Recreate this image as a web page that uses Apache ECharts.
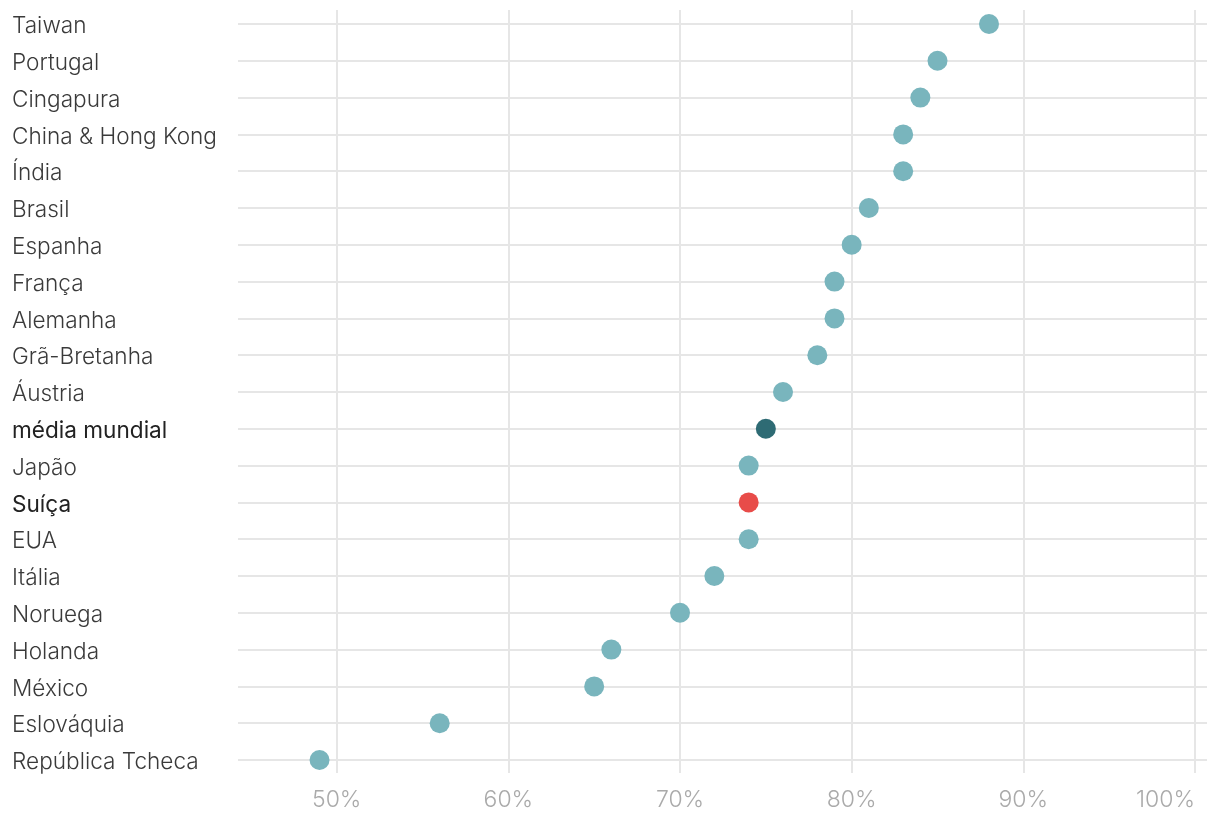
<!DOCTYPE html>
<html>
<head>
<meta charset="utf-8">
<script src="https://cdn.jsdelivr.net/npm/echarts@6/dist/echarts.min.js"></script>
<style>
html,body{margin:0;padding:0;background:#fff;}
#c{width:1220px;height:824px;}
</style>
</head>
<body>
<div id="c"></div>
<script>
const categories = ["Taiwan","Portugal","Cingapura","China & Hong Kong","Índia","Brasil","Espanha","França","Alemanha","Grã-Bretanha","Áustria","média mundial","Japão","Suíça","EUA","Itália","Noruega","Holanda","México","Eslováquia","República Tcheca"];
const values = [88,85,84,83,83,81,80,79,79,78,76,75,74,74,74,72,70,66,65,56,49];
const tickValues = [50,60,70,80,90,100];
const boldCategories = ["média mundial","Suíça"];
const specialColors = {"média mundial":"#2e6b74","Suíça":"#e84c49"};

const FONT = 'Inter';
const XMIN = 44.25, XMAX = 100.7;
const LABEL_SIZE = 22.6;

const chart = echarts.init(document.getElementById('c'), null, {renderer:'canvas'});
chart.setOption({
  animation:false,
  backgroundColor:'#fff',
  grid:[
    {left:238, right:13, top:24, bottom:64, containLabel:false, outerBoundsMode:'none'},
    {left:238, right:13, top:10, bottom:51, containLabel:false, outerBoundsMode:'none'}
  ],
  xAxis:[
    {gridIndex:0, type:'value', min:XMIN, max:XMAX, show:false, splitLine:{show:false}},
    {gridIndex:1, type:'value', min:XMIN, max:XMAX,
     axisLine:{show:false}, axisTick:{show:false, customValues:tickValues},
     splitLine:{show:true, lineStyle:{color:'#e6e6e6', width:2}},
     axisLabel:{customValues:tickValues, formatter:'{value}%', color:'#aaaaaa', fontSize:23, fontFamily:FONT, fontWeight:300, margin:16, alignMaxLabel:'right'}}
  ],
  yAxis:[
    {gridIndex:0, type:'category', inverse:true, boundaryGap:false,
     data: categories,
     axisLine:{show:false}, axisTick:{show:false},
     splitLine:{show:true, lineStyle:{color:'#e6e6e6', width:2}},
     axisLabel:{align:'left', margin:226, fontFamily:FONT,
       formatter: v => boldCategories.includes(v) ? '{b|' + v + '}' : '{n|' + v + '}',
       rich:{
         n:{color:'#3a3a3a', fontSize:LABEL_SIZE, fontFamily:FONT, fontWeight:300, padding:[5,0,0,0], align:'left'},
         b:{color:'#222', fontSize:LABEL_SIZE, fontFamily:FONT, fontWeight:400, padding:[5,0,0,0], align:'left'}
       }}},
    {gridIndex:1, type:'value', min:0, max:1, show:false, splitLine:{show:false}}
  ],
  series:[{
    type:'scatter', xAxisIndex:0, yAxisIndex:0,
    symbolSize:20,
    data: values.map((v,i)=>[v, categories[i]]),
    itemStyle:{opacity:1, color: p => specialColors[categories[p.dataIndex]] || '#79b5bd'},
    z:5
  }]
});
</script>
</body>
</html>
